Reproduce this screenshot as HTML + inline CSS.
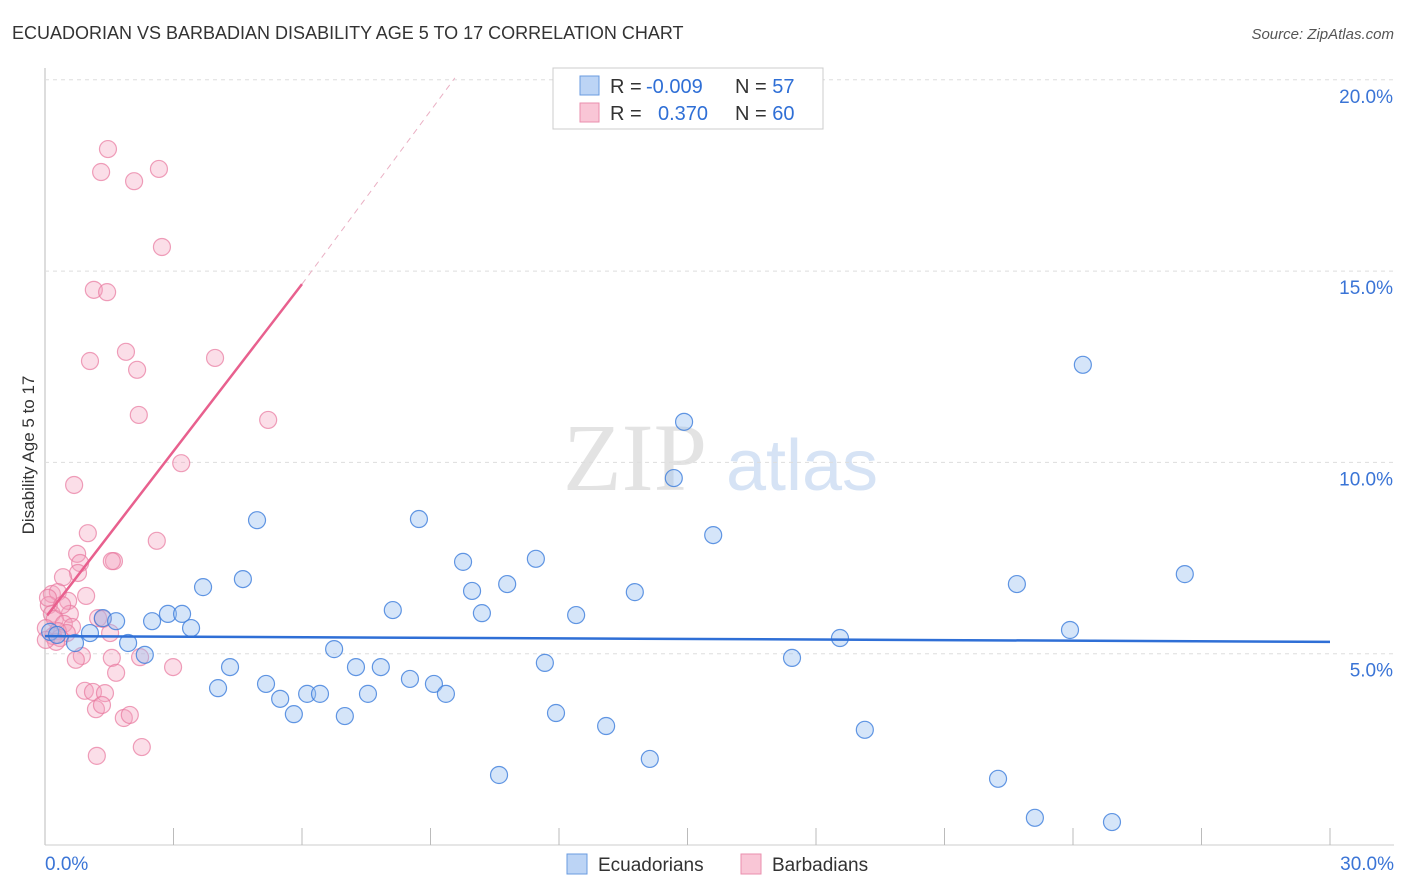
<!DOCTYPE html>
<html><head><meta charset="utf-8"><style>
body{margin:0;background:#fff;font-family:"Liberation Sans",sans-serif;}
svg{display:block}
</style></head><body>
<svg id="c" width="1406" height="892">
<text x="12" y="39" font-size="18" fill="#333">ECUADORIAN VS BARBADIAN DISABILITY AGE 5 TO 17 CORRELATION CHART</text>
<text x="1394" y="39" font-size="15" fill="#555" font-style="italic" text-anchor="end">Source: ZipAtlas.com</text>
<text x="34" y="455" font-size="17" fill="#333" text-anchor="middle" transform="rotate(-90 34 455)">Disability Age 5 to 17</text>
<g><text x="635" y="490" font-size="96" fill="#e3e3e3" font-family="Liberation Serif,serif" text-anchor="middle">ZIP</text><text x="802" y="490" font-size="72" fill="#d6e3f5" text-anchor="middle">atlas</text></g>
<g id="grid"></g><g id="pts"></g><g id="lines"></g>
<g>
<rect x="553" y="68" width="270" height="61" fill="#fff" stroke="#ccc"/>
<rect x="580" y="76" width="19" height="19" fill="#bcd4f5" stroke="#6a9be0"/>
<rect x="580" y="103" width="19" height="19" fill="#f9c6d6" stroke="#ea8fae"/>
<text x="610" y="93" font-size="20" fill="#333">R = <tspan fill="#2f6fd6" x="646">-0.009</tspan><tspan x="735" fill="#333">N = </tspan><tspan fill="#2f6fd6">57</tspan></text>
<text x="610" y="120" font-size="20" fill="#333">R = <tspan fill="#2f6fd6" x="658">0.370</tspan><tspan x="735" fill="#333">N = </tspan><tspan fill="#2f6fd6">60</tspan></text>
</g>
<g>
<rect x="567" y="854" width="20" height="20" fill="#bcd4f5" stroke="#6a9be0"/>
<text x="598" y="871" font-size="19" fill="#333">Ecuadorians</text>
<rect x="741" y="854" width="20" height="20" fill="#f9c6d6" stroke="#ea8fae"/>
<text x="772" y="871" font-size="19" fill="#333">Barbadians</text>
</g>
</svg>
<script>
const yTicks=[5,10,15,20];
const yTickLabels=["5.0%","10.0%","15.0%","20.0%"];
const xTickVals=[0,3,6,9,12,15,18,21,24,27,30];
const blueX=[0.12,0.28,0.70,1.05,1.35,1.66,1.94,2.33,2.50,2.87,3.20,3.41,3.69,4.04,4.32,4.62,4.95,5.16,5.49,5.81,6.12,6.42,6.75,7.00,7.26,7.54,7.84,8.12,8.52,8.73,9.08,9.36,9.76,9.97,10.20,10.60,10.79,11.46,11.67,11.93,12.40,13.10,13.77,14.12,14.68,14.92,15.60,17.44,18.56,19.14,22.25,22.69,23.11,23.93,24.23,24.91,26.61];
const blueY=[5.57,5.49,5.28,5.54,5.93,5.85,5.28,4.97,5.85,6.04,6.04,5.67,6.74,4.10,4.65,6.95,8.49,4.21,3.82,3.42,3.95,3.95,5.12,3.37,4.65,3.95,4.65,6.14,4.34,8.52,4.21,3.95,7.40,6.64,6.06,1.83,6.82,7.48,4.76,3.45,6.01,3.11,6.61,2.25,9.59,11.06,8.10,4.89,5.41,3.01,1.73,6.82,0.71,5.62,12.55,0.60,7.08];
const pinkX=[1.47,1.31,2.08,2.66,2.73,1.14,1.45,1.05,1.89,2.15,3.97,2.19,5.21,3.18,0.68,1.00,2.61,0.75,0.82,1.61,1.56,0.77,0.42,0.16,0.30,0.96,0.54,0.09,0.16,0.58,1.24,0.23,1.35,0.44,0.63,0.02,0.30,0.51,0.19,1.52,0.35,0.26,0.86,1.56,2.22,0.72,2.99,1.66,0.93,1.12,1.40,1.19,1.33,1.84,1.98,2.26,1.21,0.07,0.40,0.02];
const pinkY=[18.19,17.59,17.35,17.67,15.63,14.51,14.45,12.65,12.89,12.42,12.73,11.24,11.11,9.98,9.41,8.15,7.95,7.61,7.37,7.42,7.42,7.11,7.00,6.56,6.61,6.51,6.38,6.27,6.04,6.04,5.93,5.91,5.91,5.78,5.70,5.67,5.59,5.54,5.46,5.54,5.41,5.31,4.94,4.89,4.91,4.84,4.65,4.50,4.03,4.00,3.97,3.55,3.66,3.32,3.40,2.56,2.33,6.46,6.27,5.36];
const blueTrend=[[0,5.46],[30,5.31]];
const pinkTrend=[[0.05,6.0],[6.0,14.66]];
const pinkDash=[[6.0,14.66],[9.57,20.05]];
const X0=45,X1=1330,Y0=845,YPX=191.3/5;
const sx=v=>X0+(v/30)*(X1-X0), sy=v=>Y0-v*YPX;
const NS="http://www.w3.org/2000/svg";
function mk(t,a,p){const e=document.createElementNS(NS,t);for(const k in a)e.setAttribute(k,a[k]);p.appendChild(e);return e;}
const g=document.getElementById('grid');
let e=mk('line',{x1:X0,y1:68,x2:X0,y2:Y0,stroke:'#bbb'},g);


e=mk('line',{x1:X0,y1:Y0,x2:1394,y2:Y0,stroke:'#ccc'},g);


yTicks.forEach((v,i)=>{
 const l=mk('line',{x1:X0,y1:sy(v),x2:1394,y2:sy(v),stroke:'#ddd','stroke-dasharray':'4,4'},g);
 
 
 const t=mk('text',{x:1393,y:sy(v)+23,'font-size':19,fill:'#3a74d6','text-anchor':'end'},g);
 t.textContent=yTickLabels[i];
 
 
});
xTickVals.forEach(v=>{
 if(v===0)return;
 const l=mk('line',{x1:sx(v),y1:828,x2:sx(v),y2:Y0,stroke:'#bbb'},g);
 
 
});
e=mk('text',{x:45,y:870,'font-size':19,fill:'#3a74d6'},g);e.textContent='0.0%';


e=mk('text',{x:1394,y:870,'font-size':19,fill:'#3a74d6','text-anchor':'end'},g);e.textContent='30.0%';


const p=document.getElementById('pts');
pinkX.forEach((x,i)=>{
 const c=mk('circle',{cx:sx(x),cy:sy(pinkY[i]),r:8.5,fill:'rgba(244,160,188,0.35)',stroke:'rgba(232,120,158,0.7)','stroke-width':1.2},p);
 
 
});
blueX.forEach((x,i)=>{
 const c=mk('circle',{cx:sx(x),cy:sy(blueY[i]),r:8.5,fill:'rgba(150,190,240,0.4)',stroke:'rgba(60,125,220,0.8)','stroke-width':1.2},p);
 
 
});
const L=document.getElementById('lines');
function ln(a,attrs,name){const l=mk('line',Object.assign({x1:sx(a[0][0]),y1:sy(a[0][1]),x2:sx(a[1][0]),y2:sy(a[1][1])},attrs),L);
 
 }
ln(blueTrend,{stroke:'#2f6fd6','stroke-width':2.5},'ecuadorian-trendline');
ln(pinkTrend,{stroke:'#e8608e','stroke-width':2.5},'barbadian-trendline');
ln(pinkDash,{stroke:'#eab0c4','stroke-width':1,'stroke-dasharray':'6,5'},'barbadian-trendline-extension');
</script>
</body></html>
